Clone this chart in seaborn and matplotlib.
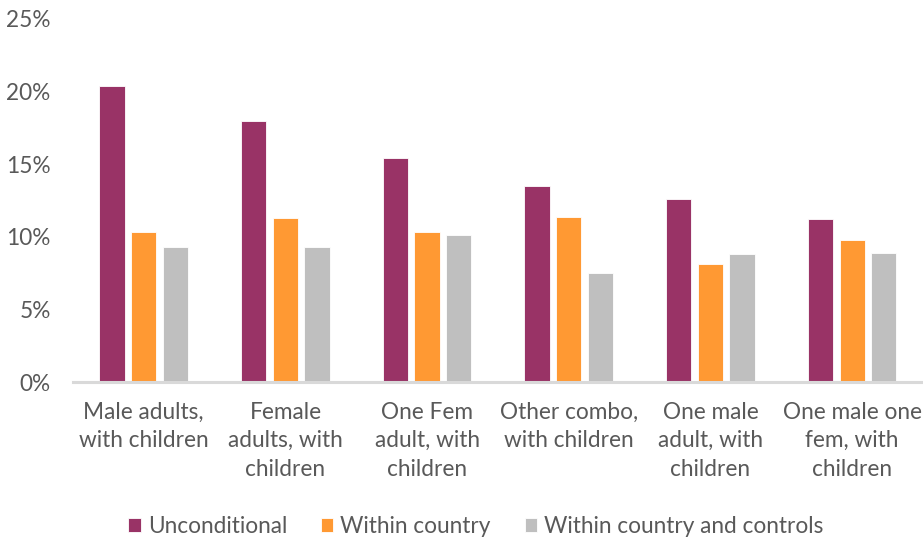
import matplotlib
matplotlib.use("Agg")
import matplotlib.pyplot as plt
import seaborn as sns
import pandas as pd
from matplotlib.ticker import FuncFormatter

categories = [
    "Male adults,\nwith children",
    "Female\nadults, with\nchildren",
    "One Fem\nadult, with\nchildren",
    "Other combo,\nwith children",
    "One male\nadult, with\nchildren",
    "One male one\nfem, with\nchildren",
]
series = ["Unconditional", "Within country", "Within country and controls"]
unconditional = [20.4, 18.0, 15.4, 13.5, 12.6, 11.2]
within_country = [10.3, 11.3, 10.3, 11.4, 8.1, 9.8]
within_controls = [9.3, 9.3, 10.1, 7.5, 8.8, 8.9]
colors = ["#993366", "#FF9933", "#BFBFBF"]

rows = []
for name, vals in zip(series, [unconditional, within_country, within_controls]):
    for cat, v in zip(categories, vals):
        rows.append({"category": cat, "series": name, "value": v})
df = pd.DataFrame(rows)

sns.set_theme(style="white")
plt.rcParams["font.family"] = ["Lato", "DejaVu Sans"]
text_color = "#595959"
fs = 16.3

fig = plt.figure(figsize=(9.23, 5.42), dpi=100)
ax = fig.add_axes([0.079, 0.295, 0.921, 0.67])

sns.barplot(
    data=df, x="category", y="value", hue="series",
    order=categories, hue_order=series, palette=colors,
    width=0.67, gap=0.2, saturation=1, ax=ax,
    edgecolor="white", linewidth=0.6, legend=True,
)

ax.set_ylim(0, 25)
ax.set_yticks([0, 5, 10, 15, 20, 25])
ax.yaxis.set_major_formatter(FuncFormatter(lambda v, _: f"{v:.0f}%"))
ax.set_xlim(-0.5, len(categories) - 0.5)
ax.set_xlabel("")
ax.set_ylabel("")

for side in ["left", "right", "top"]:
    ax.spines[side].set_visible(False)
ax.spines["bottom"].set_color("#D9D9D9")
ax.spines["bottom"].set_linewidth(2.2)

ax.tick_params(axis="y", length=0, pad=16, labelsize=fs, labelcolor=text_color)
ax.tick_params(axis="x", length=0, pad=14, labelsize=fs, labelcolor=text_color)
for lbl in ax.get_xticklabels():
    lbl.set_linespacing(1.45)
    lbl.set_verticalalignment("top")

handles, labels = ax.get_legend_handles_labels()
ax.legend(
    handles, labels, loc="lower center", bbox_to_anchor=(0.474, -0.483),
    ncol=3, frameon=False, fontsize=fs, labelcolor=text_color,
    handlelength=0.55, handleheight=0.55, handletextpad=0.3, columnspacing=1.5,
)

fig.savefig("out.png", dpi=100)
